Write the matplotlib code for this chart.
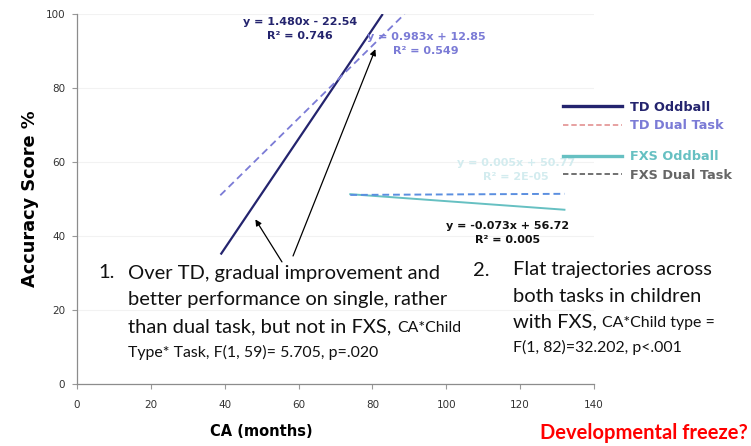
import matplotlib
matplotlib.use("Agg")
import matplotlib.pyplot as plt
from matplotlib.lines import Line2D

# ---- data (trend line end points) ----
td_odd_x = [38.9, 82.8]
td_odd_y = [35.0, 100.0]
td_dual_x = [38.8, 88.7]
td_dual_y = [51.0, 100.0]
fxs_odd_x = [74.0, 132.0]
fxs_odd_y = [51.3, 47.1]
fxs_dual_x = [74.0, 132.0]
fxs_dual_y = [51.1, 51.4]

x_ticks = [0, 20, 40, 60, 80, 100, 120, 140]
y_ticks = [0, 20, 40, 60, 80, 100]

legend_labels = ["TD Oddball", "TD Dual Task", "FXS Oddball", "FXS Dual Task"]

eq_td_odd = "y = 1.480x - 22.54\nR² = 0.746"
eq_td_dual = "y = 0.983x + 12.85\nR² = 0.549"
eq_fxs_dual = "y = 0.005x + 50.77\nR² = 2E-05"
eq_fxs_odd = "y = -0.073x + 56.72\nR² = 0.005"

NAVY = "#24246e"
LAV = "#7b7bd6"
TEAL = "#66c0c2"
BLUE = "#5b8fe0"
PINK = "#e59a9a"
GREY = "#666666"

W, H = 751, 446
fig = plt.figure(figsize=(W / 100, H / 100), dpi=100)
ax = fig.add_axes([77 / W, 1 - 384 / H, (594 - 77) / W, (384 - 14) / H])

ax.plot(td_odd_x, td_odd_y, color=NAVY, lw=1.6, solid_capstyle="butt")
ax.plot(td_dual_x, td_dual_y, color=LAV, lw=1.3, ls=(0, (4, 2.5)))
ax.plot(fxs_odd_x, fxs_odd_y, color=TEAL, lw=1.4)
ax.plot(fxs_dual_x, fxs_dual_y, color=BLUE, lw=1.4, ls=(0, (3.5, 2)))

ax.set_xlim(0, 140)
ax.set_ylim(0, 100)
ax.set_xticks(x_ticks)
ax.set_yticks(y_ticks)
ax.tick_params(labelsize=7.5, labelcolor="#333333", length=3.5, width=0.8,
               color="#999999", pad=5)
ax.tick_params(axis="x", pad=8)
ax.yaxis.grid(True, color="#f2f2f2", lw=0.8)
ax.set_axisbelow(True)
for s in ["top", "right"]:
    ax.spines[s].set_visible(False)
for s in ["left", "bottom"]:
    ax.spines[s].set_color("#8c8c8c")
    ax.spines[s].set_linewidth(0.9)

ax.set_ylabel("Accuracy Score %", fontsize=12.8, fontweight="bold")
ax.yaxis.set_label_coords((30 - 77) / 517, 0.5)
ax.set_xlabel("CA (months)", fontsize=10.5, fontweight="bold")
ax.xaxis.set_label_coords((261 - 77) / 517, (384 - 432) / 370)
ax.xaxis.label.set_verticalalignment("center")
ax.yaxis.label.set_verticalalignment("center")


def fx(px):
    return px / W


def fy(py):
    return 1 - py / H


EQ = dict(fontsize=8, fontweight="bold", ha="center", va="center",
          linespacing=1.45, multialignment="center")
fig.text(fx(300), fy(29), eq_td_odd, color=NAVY, **EQ)
fig.text(fx(426), fy(44), eq_td_dual, color=LAV, **EQ)
fig.text(fx(516), fy(170), eq_fxs_dual, color="#d3ecef", **EQ)
fig.text(fx(508), fy(233), eq_fxs_odd, color="#111111", **EQ)

# arrows
ax.annotate("", xy=(48.3, 44.5), xycoords="data", xytext=(55.5, 33.0),
            arrowprops=dict(arrowstyle="-|>", color="black", lw=0.9, mutation_scale=9,
                            shrinkA=0, shrinkB=0))
ax.annotate("", xy=(80.8, 90.5), xycoords="data", xytext=(58.5, 34.6),
            arrowprops=dict(arrowstyle="-|>", color="black", lw=0.9, mutation_scale=9,
                            shrinkA=0, shrinkB=0))

# legend (two groups)
LEG = dict(frameon=False, handlelength=4.6, handletextpad=0.55, labelspacing=0.42,
           prop=dict(size=9.3, weight="bold"), borderpad=0, borderaxespad=0, loc="center left")
h1 = [Line2D([], [], color=NAVY, lw=2.4), Line2D([], [], color=PINK, lw=1.3, ls=(0, (3, 1.6)))]
h2 = [Line2D([], [], color=TEAL, lw=2.4), Line2D([], [], color=GREY, lw=1.3, ls=(0, (3, 1.6)))]
leg1 = fig.legend(h1, legend_labels[:2], bbox_to_anchor=(fx(563), fy(116.5)), **LEG)
leg2 = fig.legend(h2, legend_labels[2:], bbox_to_anchor=(fx(563), fy(166)), **LEG)
for t, c in zip(leg1.get_texts(), [NAVY, LAV]):
    t.set_color(c)
for t, c in zip(leg2.get_texts(), [TEAL, GREY]):
    t.set_color(c)

# paragraphs
PF = "Lato"
big = 14.5
small = 11.4
TXT = dict(family=PF, color="#111111")
fig.text(fx(98), fy(273), "1.", fontsize=big, va="center", **TXT)
fig.text(fx(128), fy(273), "Over TD, gradual improvement and", fontsize=big, va="center", **TXT)
fig.text(fx(128), fy(300), "better performance on single, rather", fontsize=big, va="center", **TXT)
t1 = fig.text(fx(128), fy(327), "than dual task, but not in FXS,", fontsize=big, va="center", **TXT)
ax.annotate("CA*Child", xy=(1, 0), xycoords=t1, xytext=(4, 0), textcoords="offset points",
            fontsize=small, ha="left", va="bottom", annotation_clip=False, **TXT)
fig.text(fx(128), fy(352), "Type* Task, F(1, 59)= 5.705, p=.020", fontsize=small, va="center", **TXT)

fig.text(fx(473), fy(270), "2.", fontsize=big, va="center", **TXT)
fig.text(fx(513), fy(270), "Flat trajectories across", fontsize=big, va="center", **TXT)
fig.text(fx(513), fy(296), "both tasks in children", fontsize=big, va="center", **TXT)
t2 = fig.text(fx(513), fy(322), "with FXS,", fontsize=big, va="center", **TXT)
ax.annotate("CA*Child type =", xy=(1, 0), xycoords=t2, xytext=(4, 0), textcoords="offset points",
            fontsize=small, ha="left", va="bottom", annotation_clip=False, **TXT)
fig.text(fx(513), fy(347), "F(1, 82)=32.202, p<.001", fontsize=small, va="center", **TXT)

fig.text(fx(748), fy(433), "Developmental freeze?", fontsize=14.5, family=PF, fontweight="bold",
         color="#ff0000", ha="right", va="center")

fig.savefig("out.png", dpi=100)
